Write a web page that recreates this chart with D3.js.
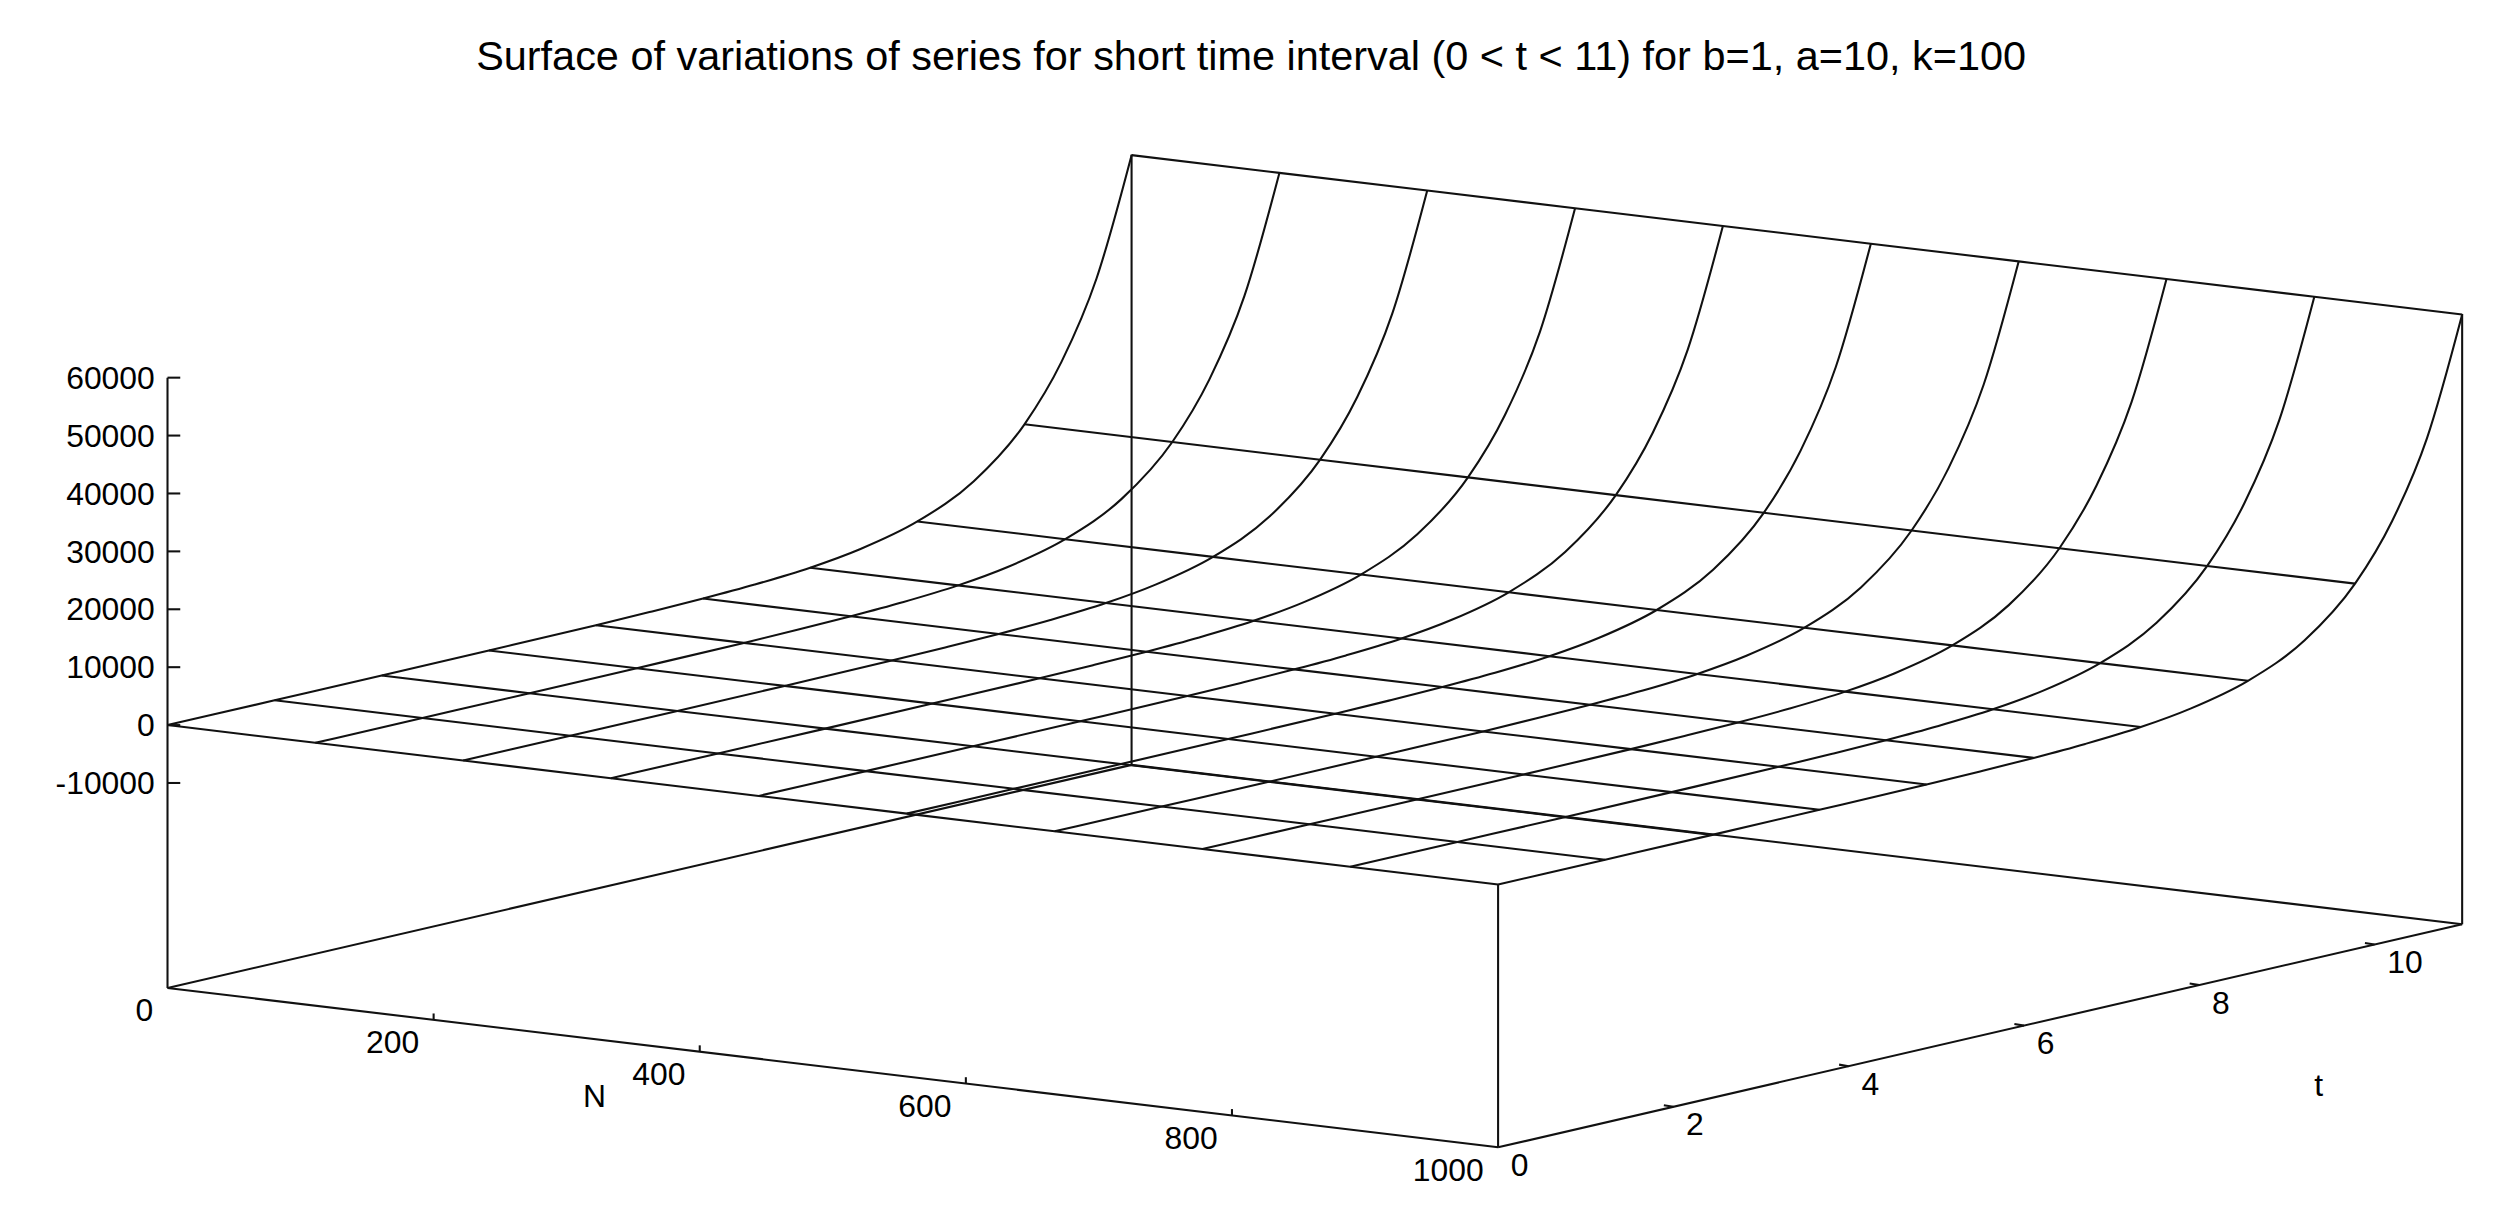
<!DOCTYPE html>
<html>
<head>
<meta charset="utf-8">
<script src="https://cdn.jsdelivr.net/npm/d3@7"></script>
<style>
  body { margin: 0; background: #fff; }
  text { font-family: "Liberation Sans", Arial, sans-serif; fill: #000; }
  .wire { fill: none; stroke: #111; stroke-width: 1.3; }
  .edge { stroke: #111; stroke-width: 1.3; }
</style>
</head>
<body>
<div id="chart"></div>
<script>
/* values: z only depends on t */
var nGrid = [0, 111.1, 222.2, 333.3, 444.4, 555.6, 666.7, 777.8, 888.9, 1000],
    tGrid = [0, 1.222, 2.444, 3.667, 4.889, 6.111, 7.333, 8.556, 9.778, 11],
    zGrid = [0, 0, 0, 40, 130, 450, 1500, 5200, 17700, 59900],
    // extra points, between grid lines
    tMid = [5.5, 6.7, 7.9, 9.2, 10.2, 10.6],
    zMid = [250, 800, 2700, 9900, 27000, 40000],
    zTicks = [-10000, 0, 10000, 20000, 30000, 40000, 50000, 60000],
    nTicks = [0, 200, 400, 600, 800, 1000],
    tTicks = [0, 2, 4, 6, 8, 10],
    title = 'Surface of variations of series for short time interval (0 < t < 11) for b=1, a=10, k=100';

var curvePts = tGrid.map(function (t, i) { return [t, zGrid[i]]; })
    .concat(tMid.map(function (t, i) { return [t, zMid[i]]; }))
    .sort(function (a, b) { return a[0] - b[0]; });

var W = 1568, H = 770,
    svg = d3.select('#chart').append('svg')
      .attr('width', 2499).attr('height', 1227)
      .attr('viewBox', '0 0 ' + W + ' ' + H);

// base-plane corner (N=0,t=0) plus N, t and z directions
var ox = 105, oy = 620,
    nx = d3.scaleLinear().domain([0, 1000]).range([0, 835]),
    ny = d3.scaleLinear().domain([0, 1000]).range([0, 100]),
    tx = d3.scaleLinear().domain([0, 11]).range([0, 605]),
    ty = d3.scaleLinear().domain([0, 11]).range([0, -140]),
    zy = d3.scaleLinear().domain([-45400, 60000]).range([0, -383]);

function P(n, t, z) {
    return [ox + nx(n) + tx(t), oy + ny(n) + ty(t) + zy(z)];
}
var zMin = zy.domain()[0], zMax = zy.domain()[1];

function seg(a, b) {
    svg.append('line').attr('class', 'edge')
      .attr('x1', a[0]).attr('y1', a[1]).attr('x2', b[0]).attr('y2', b[1]);
}

// base plane
seg(P(0, 0, zMin), P(1000, 0, zMin));
seg(P(1000, 0, zMin), P(1000, 11, zMin));
seg(P(1000, 11, zMin), P(0, 11, zMin));
seg(P(0, 11, zMin), P(0, 0, zMin));
// verticals
seg(P(0, 0, zMin), P(0, 0, zMax));
seg(P(0, 11, zMin), P(0, 11, zMax));
seg(P(1000, 11, zMin), P(1000, 11, zMax));
seg(P(1000, 0, zMin), P(1000, 0, 0));

// surface wireframe
var line = d3.line().curve(d3.curveMonotoneX);
nGrid.forEach(function (n) {
    svg.append('path').attr('class', 'wire')
      .attr('d', line(curvePts.map(function (d) { return P(n, d[0], d[1]); })));
});
tGrid.forEach(function (t, i) {
    svg.append('path').attr('class', 'wire')
      .attr('d', d3.line()(nGrid.map(function (n) { return P(n, t, zGrid[i]); })));
});

var fs = '20px';
// z axis
zTicks.forEach(function (z) {
    var p = P(0, 0, z);
    seg(p, [p[0] + 8, p[1]]);
    svg.append('text').attr('x', p[0] - 8).attr('y', p[1]).attr('dy', '0.35em')
      .attr('text-anchor', 'end').style('font-size', fs).text(z);
});

// N axis
nTicks.forEach(function (n) {
    var p = P(n, 0, zMin);
    if (n > 0 && n < 1000) seg(p, [p[0], p[1] - 4]);
    svg.append('text').attr('x', p[0] - 9).attr('y', p[1] + 21)
      .attr('text-anchor', 'end').style('font-size', fs).text(n);
});
svg.append('text').attr('x', 373).attr('y', 695).attr('text-anchor', 'middle')
  .style('font-size', fs).text('N');

// t axis
tTicks.forEach(function (t) {
    var p = P(1000, t, zMin);
    if (t > 0) seg(p, [p[0] - 6, p[1] - 1]);
    svg.append('text').attr('x', p[0] + 8).attr('y', p[1] + 18)
      .attr('text-anchor', 'start').style('font-size', fs).text(t);
});
svg.append('text').attr('x', 1455).attr('y', 688).attr('text-anchor', 'middle')
  .style('font-size', fs).text('t');

svg.append('text').attr('x', 785).attr('y', 44).attr('text-anchor', 'middle')
  .style('font-size', '26px').text(title);
</script>
</body>
</html>
